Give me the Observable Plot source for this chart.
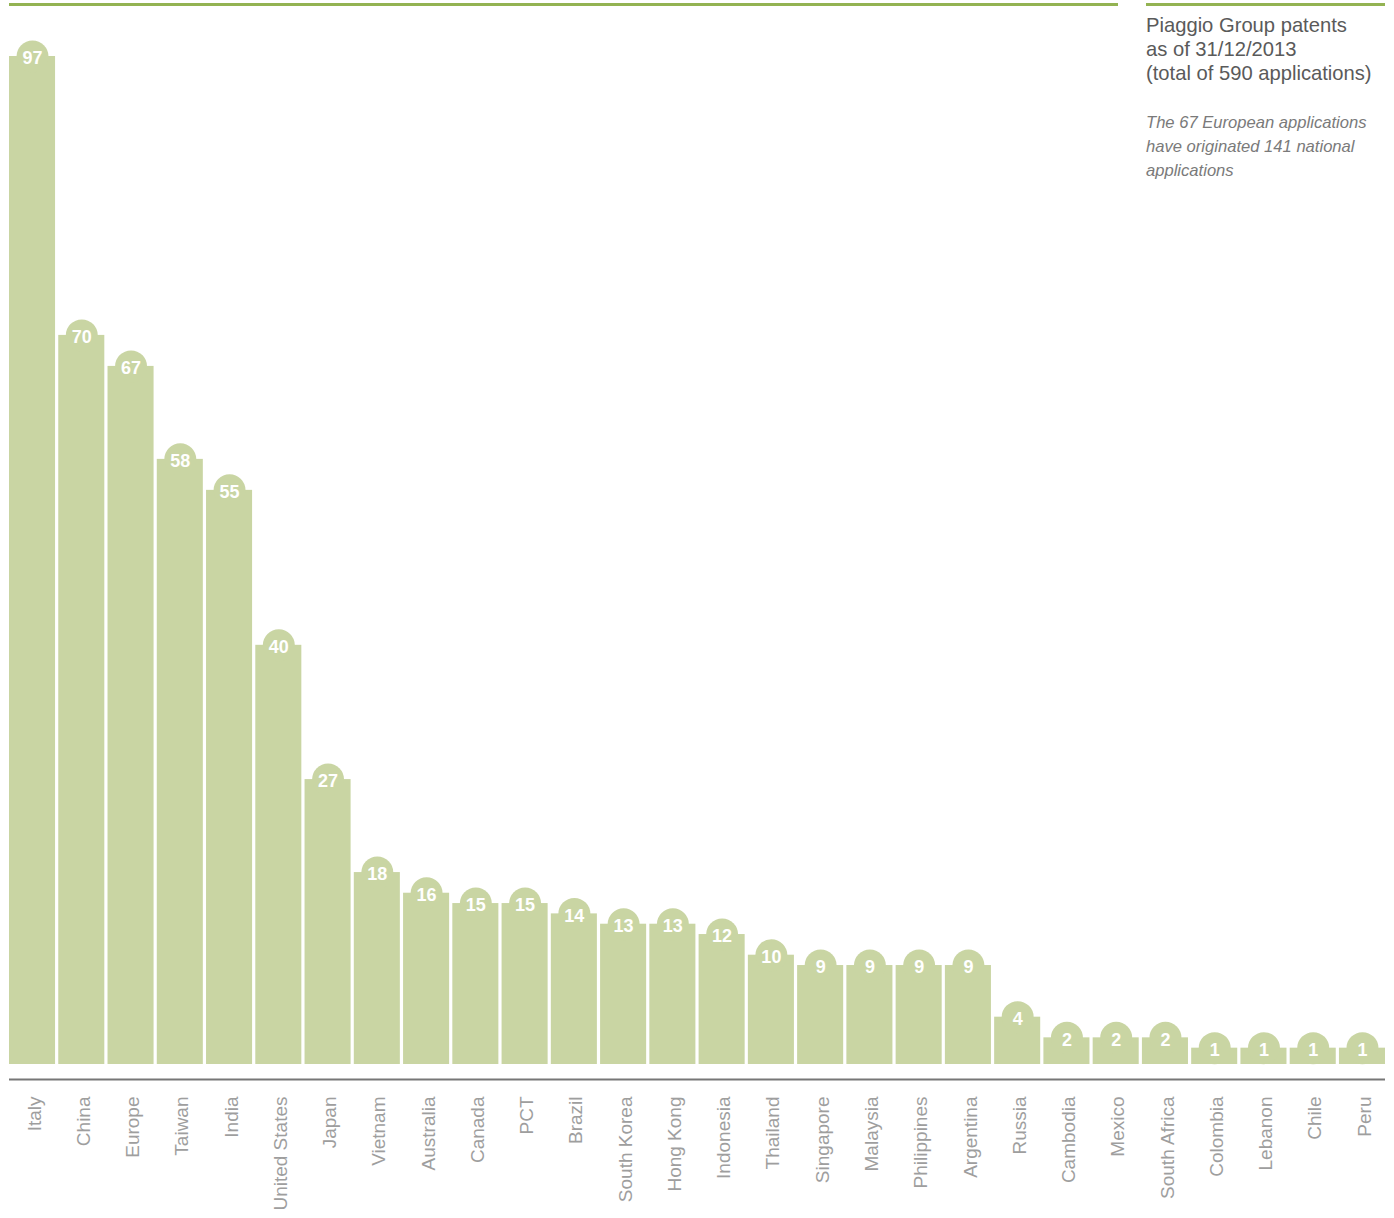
<!DOCTYPE html>
<html>
<head>
<meta charset="utf-8">
<script src="https://cdn.jsdelivr.net/npm/d3@7"></script>
<script src="https://cdn.jsdelivr.net/npm/@observablehq/plot@0.6"></script>
<style>
  html, body { margin: 0; padding: 0; background: #fff; }
  #wrap { position: relative; width: 1394px; height: 1218px; font-family: "Liberation Sans", Arial, sans-serif; }
  #chart { position: absolute; left: 0; top: 0; }
  .topline { position: absolute; height: 3px; background: #93b352; top: 3px; }
  #title { position: absolute; left: 1146px; top: 13px; font-size: 20.2px; line-height: 24px; color: #5a5a5a; }
  #note { position: absolute; left: 1146px; top: 111px; font-size: 16.6px; line-height: 24px; color: #7a7a7a; font-style: italic; }
</style>
</head>
<body>
<div id="wrap">
  <div id="chart"></div>
  <div class="topline" style="left:9px;width:1109px"></div>
  <div class="topline" style="left:1146px;width:239px"></div>
  <div id="title">Piaggio Group patents<br>as of 31/12/2013<br>(total of 590 applications)</div>
  <div id="note">The 67 European applications<br>have originated 141 national<br>applications</div>
</div>
<script>
const countries = ["Italy","China","Europe","Taiwan","India","United States","Japan","Vietnam","Australia","Canada","PCT","Brazil","South Korea","Hong Kong","Indonesia","Thailand","Singapore","Malaysia","Philippines","Argentina","Russia","Cambodia","Mexico","South Africa","Colombia","Lebanon","Chile","Peru"];
const patents = [97,70,67,58,55,40,27,18,16,15,15,14,13,13,12,10,9,9,9,9,4,2,2,2,1,1,1,1];

const data = countries.map((c, i) => ({country: c, value: patents[i]}));
const barColor = "#c9d5a3";

const chart = Plot.plot({
  width: 1394,
  height: 1218,
  marginLeft: 9,
  marginRight: 9,
  marginTop: 56,
  marginBottom: 160,
  style: {fontFamily: "'Liberation Sans', Arial, sans-serif", color: "#9e9e9e", background: "transparent"},
  x: {domain: countries, paddingInner: 0.065, paddingOuter: 0, round: false},
  y: {domain: [0, 97], axis: null},
  marks: [
    Plot.barY(data, {x: "country", y: "value", fill: barColor, insetBottom: -6}),
    Plot.dot(data, {x: "country", y: "value", r: 16, fill: barColor, stroke: null}),
    Plot.text(data, {x: "country", y: "value", text: d => String(d.value), fill: "white", fontWeight: "bold", fontSize: 18, dy: 2}),
    Plot.ruleY([0], {stroke: "#777", strokeWidth: 2, dy: 21}),
    Plot.axisX({tickSize: 0, tickPadding: 38, tickRotate: -90, fontSize: 19, label: null, fill: "#9e9e9e", dx: 2})
  ]
});
document.getElementById("chart").appendChild(chart);
</script>
</body>
</html>
